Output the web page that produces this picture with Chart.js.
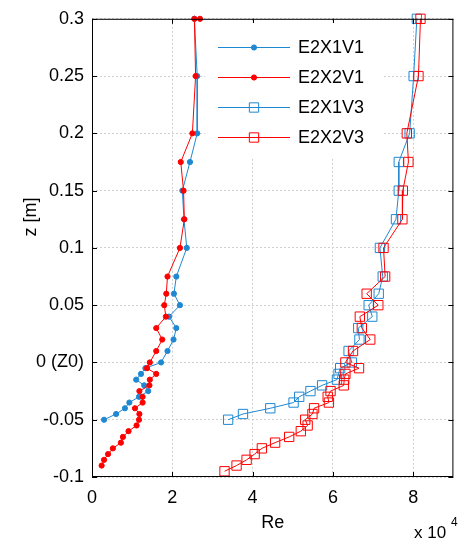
<!DOCTYPE html>
<html>
<head>
<meta charset="utf-8">
<script src="https://cdn.jsdelivr.net/npm/chart.js@4.4.0/dist/chart.umd.min.js"></script>
<style>
  html, body { margin: 0; padding: 0; background: #fff; }
</style>
</head>
<body>
<canvas id="chart" width="461" height="542"></canvas>
<script>
// values, Re in units of 1e4, z in m
const zX1 = [0.3, 0.25, 0.2, 0.175, 0.15, 0.125, 0.1, 0.075, 0.06, 0.05, 0.04, 0.03, 0.02, 0.01, 0,
  -0.005, -0.01, -0.015, -0.02, -0.025, -0.03, -0.035, -0.04, -0.045, -0.05];
const zX2V1 = [0.3, 0.3, 0.25, 0.2, 0.175, 0.15, 0.125, 0.1, 0.075, 0.06, 0.05, 0.04, 0.03, 0.02, 0.01, 0,
  -0.005, -0.01, -0.015, -0.02, -0.025, -0.03, -0.035, -0.04, -0.045, -0.05,
  -0.055, -0.06, -0.065, -0.07, -0.075, -0.08, -0.085, -0.09];
const zX2V3 = [0.3, 0.25, 0.2, 0.175, 0.15, 0.125, 0.1, 0.075, 0.06, 0.05, 0.04, 0.03, 0.02, 0.01, 0,
  -0.005, -0.01, -0.015, -0.02, -0.025, -0.03, -0.035, -0.04, -0.045, -0.05,
  -0.055, -0.06, -0.065, -0.07, -0.075, -0.08, -0.085, -0.09, -0.095];

const reX1V1 = [2.55, 2.62, 2.62, 2.44, 2.25, 2.29, 2.36, 2.10, 2.04, 2.19, 1.92, 2.10, 2.03, 1.88, 1.72,
  1.33, 1.22, 1.10, 1.30, 1.40, 1.17, 0.93, 0.82, 0.60, 0.30];
const reX2V1 = [2.69, 2.55, 2.58, 2.50, 2.21, 2.28, 2.30, 2.19, 1.88, 1.85, 1.80, 1.84, 1.60, 1.75, 1.60, 1.44,
  1.37, 1.60, 1.44, 1.43, 1.18, 1.26, 1.26, 1.07, 1.18, 1.17,
  1.11, 0.91, 0.77, 0.72, 0.52, 0.40, 0.30, 0.24];
const reX1V3 = [8.09, 8.01, 7.91, 7.64, 7.64, 7.57, 7.17, 7.24, 7.14, 6.89, 6.98, 6.63, 6.66, 6.39, 6.47,
  6.18, 6.14, 6.10, 5.73, 5.44, 5.16, 5.02, 4.44, 3.76, 3.39];
const reX2V3 = [8.18, 8.13, 7.84, 7.88, 7.74, 7.73, 7.26, 7.30, 6.84, 7.13, 6.67, 6.72, 6.93, 6.50, 6.31,
  6.65, 6.31, 6.28, 6.27, 5.94, 5.87, 5.90, 5.53, 5.49, 5.31,
  5.37, 5.20, 4.91, 4.56, 4.23, 4.05, 3.85, 3.60, 3.30];

const seriesNames = ["E2X1V1", "E2X2V1", "E2X1V3", "E2X2V3"];
const xTicks = [0, 2, 4, 6, 8];
const yTicks = [-0.1, -0.05, 0, 0.05, 0.1, 0.15, 0.2, 0.25, 0.3];
const yTickLabels = ["-0.1", "-0.05", "0 (Z0)", "0.05", "0.1", "0.15", "0.2", "0.25", "0.3"];

const BLUE = "#1f88d2";
const RED = "#ff0000";
const FONT = "'Liberation Sans', Arial, sans-serif";

function toPoints(re, z) {
  return re.map((v, i) => ({ x: v, y: z[i] }));
}

function makeSet(label, re, z, color, style, order) {
  const isDot = style === "circle";
  return {
    label: label,
    data: toPoints(re, z),
    showLine: true,
    borderColor: color,
    borderWidth: 1,
    pointStyle: style,
    pointRadius: isDot ? 2.6 : 6.6,
    pointBorderWidth: 1,
    pointBorderColor: color,
    pointBackgroundColor: isDot ? color : "rgba(0,0,0,0)",
    clip: 10,
    order: order
  };
}

// box, inward ticks, legend, y title and the exponent note
const decorPlugin = {
  id: "decor",
  afterDraw(chart) {
    const ctx = chart.ctx;
    const a = chart.chartArea;
    const xs = chart.scales.x;
    const ys = chart.scales.y;
    ctx.save();
    ctx.strokeStyle = "#000";
    ctx.lineWidth = 1;
    ctx.strokeRect(a.left + 0.5, a.top + 0.5, a.right - a.left - 1, a.bottom - a.top - 1);
    ctx.beginPath();
    xTicks.forEach(t => {
      const px = Math.round(xs.getPixelForValue(t)) + 0.5;
      ctx.moveTo(px, a.bottom); ctx.lineTo(px, a.bottom - 5);
      ctx.moveTo(px, a.top); ctx.lineTo(px, a.top + 5);
    });
    yTicks.forEach(t => {
      const py = Math.round(ys.getPixelForValue(t)) + 0.5;
      ctx.moveTo(a.left, py); ctx.lineTo(a.left + 5, py);
      ctx.moveTo(a.right, py); ctx.lineTo(a.right - 5, py);
    });
    ctx.stroke();

    // legend
    ctx.fillStyle = "#fff";
    ctx.fillRect(205, 23, 178, 136);
    ctx.font = "18px " + FONT;
    ctx.textBaseline = "middle";
    chart.data.datasets.forEach((ds, i) => {
      const y = 47 + i * 30 + 0.5;
      ctx.strokeStyle = ds.borderColor;
      ctx.lineWidth = 1;
      ctx.beginPath();
      ctx.moveTo(218, y); ctx.lineTo(290, y);
      ctx.stroke();
      ctx.fillStyle = ds.pointBackgroundColor;
      Chart.helpers.drawPoint(ctx, {
        pointStyle: ds.pointStyle, radius: ds.pointRadius, borderWidth: 1, rotation: 0
      }, 254, y);
      ctx.fillStyle = "#000";
      ctx.fillText(ds.label, 298, y + 1);
    });

    // y title
    ctx.fillStyle = "#000";
    ctx.font = "18px " + FONT;
    ctx.textAlign = "center";
    ctx.textBaseline = "middle";
    ctx.translate(31, 217);
    ctx.rotate(-Math.PI / 2);
    ctx.fillText("z [m]", 0, 0);
    ctx.setTransform(1, 0, 0, 1, 0, 0);

    // x 10^4
    ctx.textAlign = "left";
    ctx.font = "17px " + FONT;
    ctx.textBaseline = "alphabetic";
    ctx.fillText("x 10", 414, 538);
    ctx.font = "12px " + FONT;
    ctx.fillText("4", 451, 526);
    ctx.restore();
  }
};

const gridCol = "#cfcfcf";

new Chart(document.getElementById("chart"), {
  type: "scatter",
  data: {
    datasets: [
      makeSet(seriesNames[0], reX1V1, zX1, BLUE, "circle", 2),
      makeSet(seriesNames[1], reX2V1, zX2V1, RED, "circle", 1),
      makeSet(seriesNames[2], reX1V3, zX1, BLUE, "rect", 2),
      makeSet(seriesNames[3], reX2V3, zX2V3, RED, "rect", 1)
    ]
  },
  options: {
    responsive: false,
    animation: false,
    layout: { padding: { top: 17, right: 3, left: 0, bottom: 0 } },
    plugins: {
      legend: { display: false },
      tooltip: { enabled: false }
    },
    scales: {
      x: {
        type: "linear",
        min: 0,
        max: 9,
        afterBuildTicks: s => { s.ticks = xTicks.map(v => ({ value: v })); },
        afterFit: s => { s.height = 65; },
        grid: { color: gridCol, drawTicks: false },
        border: { display: false, dash: [2, 2] },
        ticks: { padding: 10, color: "#000", font: { family: FONT, size: 18 } },
        title: {
          display: true, text: "Re", color: "#000",
          font: { family: FONT, size: 18 }, padding: { top: 8, bottom: 8 }
        }
      },
      y: {
        type: "linear",
        min: -0.1,
        max: 0.3,
        afterBuildTicks: s => { s.ticks = yTicks.map(v => ({ value: v })); },
        afterFit: s => { s.width = 92; },
        grid: { color: gridCol, drawTicks: false },
        border: { display: false, dash: [2, 2] },
        ticks: {
          padding: 8, color: "#000", font: { family: FONT, size: 18 },
          callback: v => yTickLabels[yTicks.indexOf(v)]
        }
      }
    }
  },
  plugins: [decorPlugin]
});
</script>
</body>
</html>
